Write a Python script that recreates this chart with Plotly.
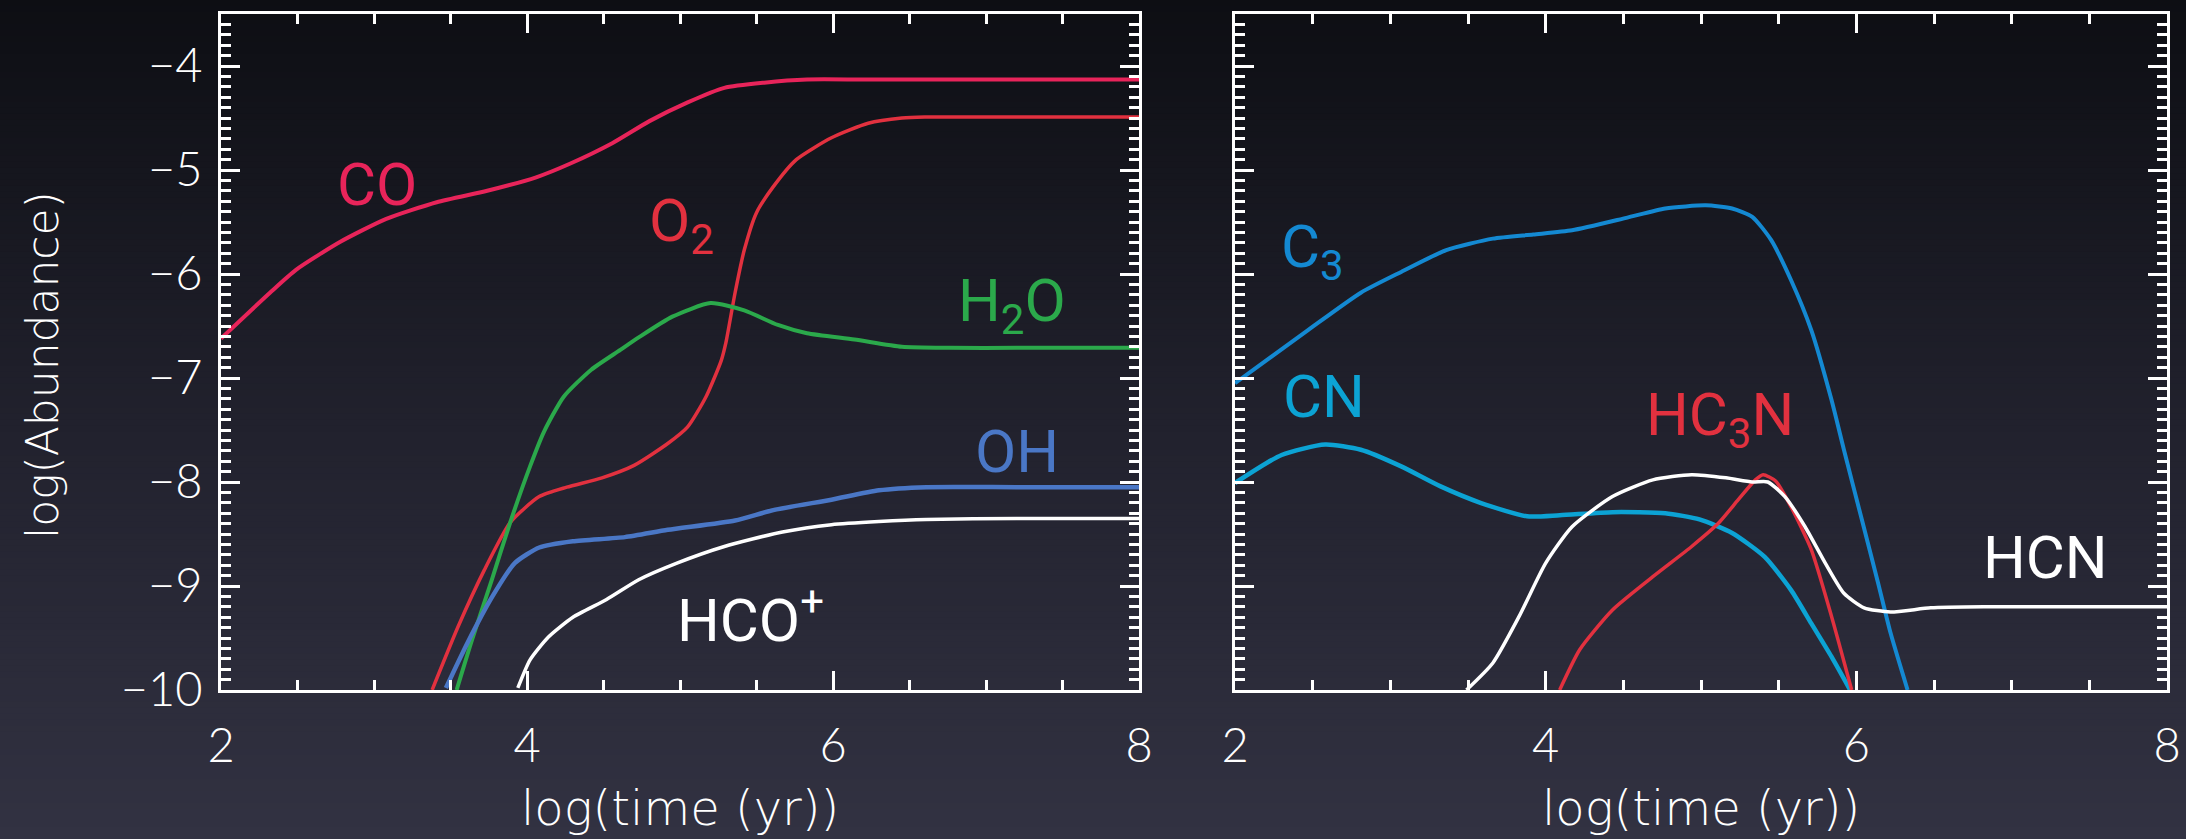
import plotly.graph_objects as go

# ---- left panel: oxygen chemistry ----
co_t = [2.0, 2.32, 2.49, 2.78, 3.08, 3.41, 3.74, 4.06, 4.28, 4.56, 4.80, 5.05, 5.29, 5.55, 5.83, 6.2, 7.0, 8.0]
co_ab = [-6.62, -6.18, -5.96, -5.69, -5.47, -5.31, -5.20, -5.07, -4.94, -4.74, -4.53, -4.35, -4.21, -4.16, -4.13, -4.13, -4.13, -4.13]

o2_t = [3.38, 3.55, 3.72, 3.89, 4.08, 4.26, 4.49, 4.70, 4.92, 5.05, 5.17, 5.27, 5.30, 5.36, 5.42, 5.50, 5.61, 5.76, 5.99, 6.23, 6.45, 6.6, 7.0, 8.0]
o2_ab = [-10.0, -9.39, -8.85, -8.39, -8.14, -8.05, -7.96, -7.84, -7.63, -7.47, -7.18, -6.83, -6.66, -6.18, -5.77, -5.41, -5.16, -4.90, -4.69, -4.55, -4.50, -4.49, -4.49, -4.49]

h2o_t = [3.54, 3.64, 3.77, 3.89, 4.02, 4.11, 4.24, 4.42, 4.61, 4.73, 4.95, 5.20, 5.42, 5.64, 5.83, 6.14, 6.45, 6.76, 7.2, 8.0]
h2o_ab = [-10.0, -9.52, -8.94, -8.39, -7.85, -7.52, -7.18, -6.92, -6.73, -6.61, -6.41, -6.28, -6.35, -6.49, -6.57, -6.63, -6.70, -6.71, -6.71, -6.71]

oh_t = [3.47, 3.61, 3.77, 3.92, 4.08, 4.30, 4.64, 4.92, 5.36, 5.61, 5.99, 6.30, 6.61, 7.2, 8.0]
oh_ab = [-9.98, -9.55, -9.11, -8.78, -8.63, -8.57, -8.53, -8.46, -8.37, -8.27, -8.17, -8.08, -8.05, -8.05, -8.05]

hco_t = [3.94, 4.02, 4.14, 4.30, 4.52, 4.73, 4.98, 5.29, 5.67, 5.99, 6.30, 6.61, 7.2, 8.0]
hco_ab = [-9.98, -9.71, -9.49, -9.30, -9.13, -8.94, -8.78, -8.62, -8.48, -8.41, -8.38, -8.36, -8.35, -8.35]

# ---- right panel: carbon / nitrogen chemistry ----
c3_t = [2.0, 2.47, 2.81, 3.07, 3.36, 3.66, 3.92, 4.17, 4.52, 4.77, 5.03, 5.20, 5.33, 5.45, 5.58, 5.71, 5.84, 5.92, 6.03, 6.14, 6.22, 6.33]
c3_ab = [-7.05, -6.54, -6.18, -5.98, -5.77, -5.66, -5.62, -5.58, -5.46, -5.37, -5.34, -5.37, -5.45, -5.67, -6.06, -6.54, -7.21, -7.69, -8.33, -8.97, -9.45, -10.0]

cn_t = [2.0, 2.30, 2.58, 2.81, 3.07, 3.32, 3.58, 3.88, 4.09, 4.43, 4.77, 4.99, 5.20, 5.41, 5.58, 5.71, 5.84, 5.96]
cn_ab = [-8.01, -7.74, -7.64, -7.69, -7.85, -8.04, -8.20, -8.33, -8.32, -8.29, -8.30, -8.36, -8.49, -8.72, -9.04, -9.36, -9.68, -10.0]

hc3n_t = [4.09, 4.22, 4.43, 4.69, 4.94, 5.11, 5.24, 5.35, 5.40, 5.48, 5.58, 5.71, 5.84, 5.97]
hc3n_ab = [-10.0, -9.61, -9.23, -8.91, -8.62, -8.40, -8.17, -7.98, -7.93, -7.99, -8.24, -8.65, -9.29, -10.0]

hcn_t = [3.49, 3.66, 3.83, 4.00, 4.17, 4.43, 4.69, 4.94, 5.16, 5.33, 5.43, 5.54, 5.67, 5.80, 5.92, 6.05, 6.22, 6.48, 6.82, 8.0]
hcn_ab = [-10.0, -9.74, -9.29, -8.78, -8.43, -8.14, -7.98, -7.93, -7.96, -8.00, -8.00, -8.14, -8.43, -8.78, -9.07, -9.21, -9.25, -9.21, -9.20, -9.20]

# species labels: (text, x, y, colour, panel)
labels = [
    ("CO", 3.02, -5.14, "#e8245a", 1),
    ("O<sub>2</sub>", 5.01, -5.52, "#e2313f", 1),
    ("H<sub>2</sub>O", 7.17, -6.29, "#2ba94b", 1),
    ("OH", 7.2, -7.71, "#4a77c6", 1),
    ("HCO<sup>+</sup>", 5.46, -9.29, "#ffffff", 1),
    ("C<sub>3</sub>", 2.5, -5.77, "#1489d2", 2),
    ("CN", 2.57, -7.18, "#0ca3d4", 2),
    ("HC<sub>3</sub>N", 5.12, -7.39, "#e2313f", 2),
    ("HCN", 7.22, -8.73, "#ffffff", 2),
]

xticks = [2, 4, 6, 8]
yticks = [-4, -5, -6, -7, -8, -9, -10]
ytick_text = ["\u22124", "\u22125", "\u22126", "\u22127", "\u22128", "\u22129", "\u221210"]

W, H = 2186, 839
tick_font = dict(family="Lato, Open Sans, DejaVu Sans", size=47, color="white", weight=300)
label_font_family = "Roboto, Liberation Sans, DejaVu Sans"

fig = go.Figure()

series_left = [
    (co_t, co_ab, "#e8245a", 4),
    (o2_t, o2_ab, "#e2313f", 3.5),
    (h2o_t, h2o_ab, "#2ba94b", 4),
    (oh_t, oh_ab, "#4a77c6", 4.5),
    (hco_t, hco_ab, "#ffffff", 3.5),
]
series_right = [
    (c3_t, c3_ab, "#1489d2", 4),
    (cn_t, cn_ab, "#0ca3d4", 4.5),
    (hc3n_t, hc3n_ab, "#e2313f", 3.5),
    (hcn_t, hcn_ab, "#ffffff", 3.5),
]
for t, ab, col, w in series_left:
    fig.add_trace(go.Scatter(x=t, y=ab, mode="lines", line=dict(color=col, width=w, shape="spline", smoothing=0.6),
                             xaxis="x", yaxis="y", showlegend=False, hoverinfo="skip"))
for t, ab, col, w in series_right:
    fig.add_trace(go.Scatter(x=t, y=ab, mode="lines", line=dict(color=col, width=w, shape="spline", smoothing=0.6),
                             xaxis="x2", yaxis="y2", showlegend=False, hoverinfo="skip"))

axis_common = dict(
    showgrid=False, zeroline=False, showline=True, linecolor="white", linewidth=3,
    mirror="ticks", ticks="inside", ticklen=19, tickwidth=2.5, tickcolor="white",
    tickfont=tick_font, automargin=False,
)
xaxis_common = dict(axis_common, range=[2, 8], tickvals=xticks, ticktext=[str(v) for v in xticks],
                    minor=dict(dtick=0.5, tick0=2, ticks="inside", ticklen=10, tickwidth=2.5, tickcolor="white"),
                    ticklabelstandoff=13)
yaxis_common = dict(axis_common, range=[-10, -3.5], tickvals=yticks,
                    minor=dict(dtick=0.1, tick0=-10, ticks="inside", ticklen=10, tickwidth=2.5, tickcolor="white"))

y_dom = [1 - 690 / H, 1 - 14 / H]
fig.update_layout(
    width=W, height=H,
    margin=dict(l=0, r=0, t=0, b=0, autoexpand=False),
    paper_bgcolor="#262634", plot_bgcolor="rgba(0,0,0,0)",
    xaxis=dict(xaxis_common, domain=[221 / W, 1139 / W], anchor="y"),
    yaxis=dict(yaxis_common, domain=y_dom, anchor="x", ticktext=ytick_text, ticklabelstandoff=6),
    xaxis2=dict(xaxis_common, domain=[1235 / W, 2167 / W], anchor="y2"),
    yaxis2=dict(yaxis_common, domain=y_dom, anchor="x2", showticklabels=False),
)

# vertical background gradient
n_bands = 140
top_c = (13, 14, 19)
mid_c = (33, 33, 45)
bot_c = (50, 50, 66)
shapes = []
for i in range(n_bands):
    f = (i + 0.5) / n_bands  # 0 at top, 1 at bottom
    if f < 0.5:
        g = f / 0.5
        c = [top_c[k] + (mid_c[k] - top_c[k]) * g for k in range(3)]
    else:
        g = (f - 0.5) / 0.5
        c = [mid_c[k] + (bot_c[k] - mid_c[k]) * g for k in range(3)]
    shapes.append(dict(type="rect", xref="paper", yref="paper", x0=0, x1=1,
                       y0=1 - (i + 1) / n_bands - 0.001, y1=1 - i / n_bands,
                       fillcolor="rgb(%d,%d,%d)" % tuple(round(v) for v in c),
                       line=dict(width=0), layer="below"))
fig.update_layout(shapes=shapes)

annotations = []
for text, x, y, col, ax in labels:
    annotations.append(dict(text=text, x=x, y=y, xref="x" if ax == 1 else "x2", yref="y" if ax == 1 else "y2",
                            showarrow=False, xanchor="center", yanchor="middle",
                            font=dict(family=label_font_family, size=60, color=col)))
# axis titles
ytitle_font = dict(family="DejaVu Sans, Lato", size=44, color="white", weight=200)
xtitle_font = dict(family="DejaVu Sans, Lato", size=48, color="white", weight=200)
annotations.append(dict(text="log(Abundance)", x=42 / W, y=1 - 365 / H, xref="paper", yref="paper",
                        textangle=-90, showarrow=False, xanchor="center", yanchor="middle", font=ytitle_font))
annotations.append(dict(text="log(time (yr))", x=(221 + 1139) / 2 / W, y=1 - 808 / H, xref="paper", yref="paper",
                        showarrow=False, xanchor="center", yanchor="middle", font=xtitle_font))
annotations.append(dict(text="log(time (yr))", x=(1235 + 2167) / 2 / W, y=1 - 808 / H, xref="paper", yref="paper",
                        showarrow=False, xanchor="center", yanchor="middle", font=xtitle_font))
fig.update_layout(annotations=annotations)

fig.write_html("out.html")
